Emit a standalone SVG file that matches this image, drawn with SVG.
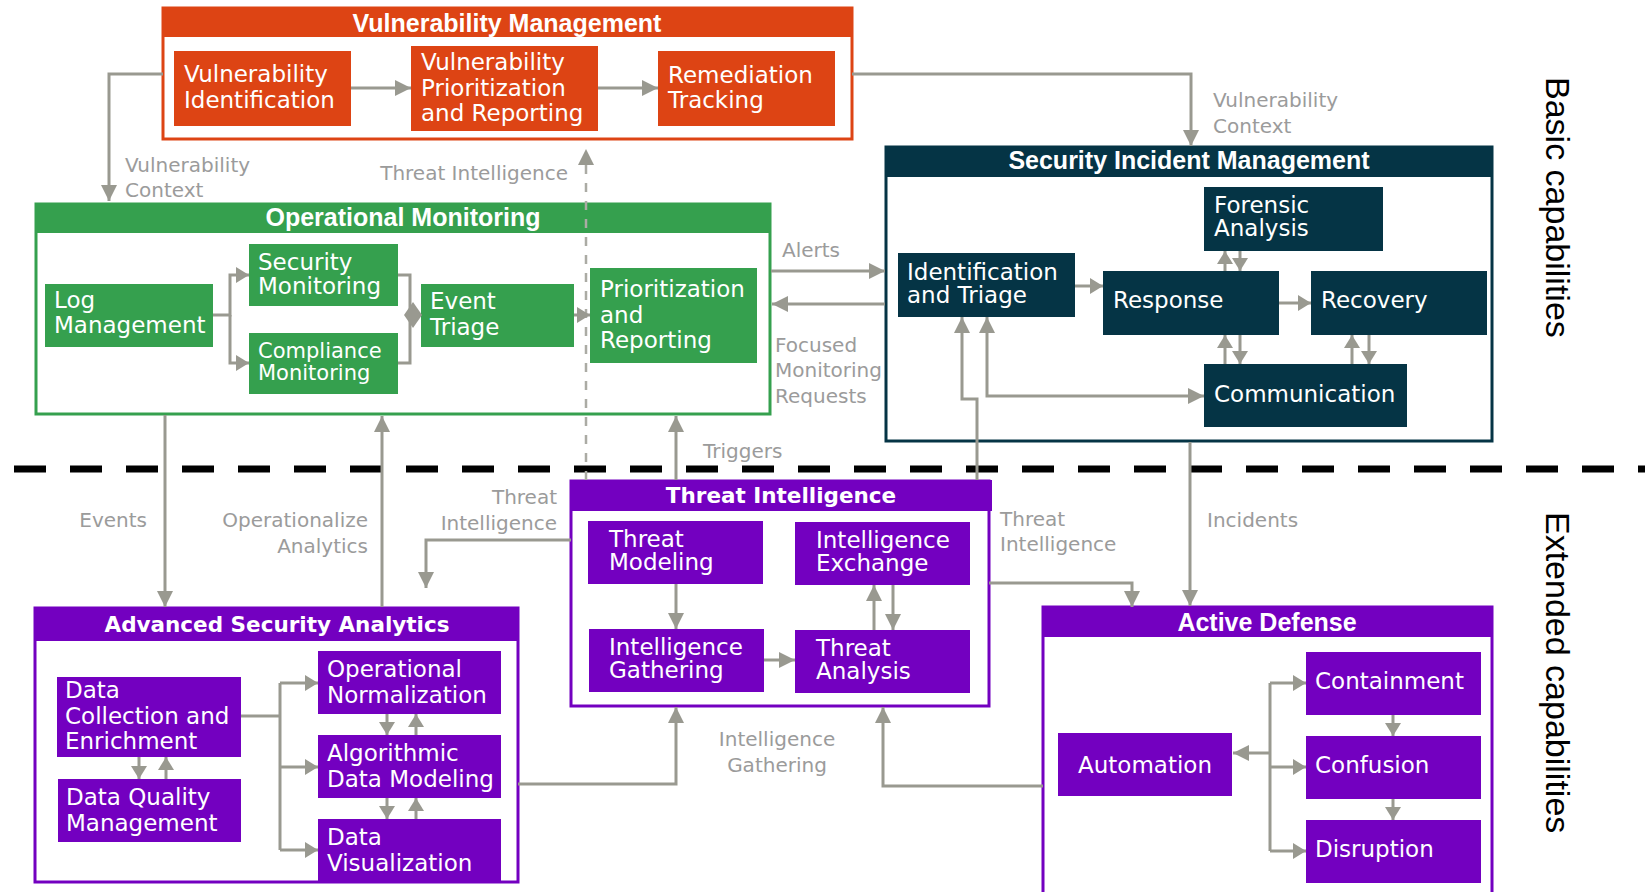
<svg xmlns="http://www.w3.org/2000/svg" width="1645" height="892" viewBox="0 0 1645 892">
  <style>
    .hd { font-family: "Liberation Sans", Arial, sans-serif; font-weight: bold; font-size: 25px; fill: #fff; text-anchor: middle; }
    .hd2 { font-family: "DejaVu Sans", sans-serif; font-weight: bold; font-size: 21.5px; fill: #fff; text-anchor: middle; }
    .nt { font-family: "DejaVu Sans", sans-serif; font-size: 23px; fill: #fff; }
    .nt.sm { font-size: 21px; }
    .mid { text-anchor: middle; }
    .lb { font-family: "DejaVu Sans", sans-serif; font-size: 20px; fill: #9b9b9b; }
    .end { text-anchor: end; }
    .side { font-family: "Liberation Sans", Arial, sans-serif; font-size: 34px; fill: #000; }
    .cn { fill: none; stroke: #999990; stroke-width: 3; }
    .ar { marker-end: url(#arr); }
    .as { marker-end: url(#arrs); }
    .dash { fill: none; stroke: #ababa4; stroke-width: 2.5; stroke-dasharray: 9 9; }
    .sep { fill: none; stroke: #000; stroke-width: 7; stroke-dasharray: 32 24; }
    .vm-box { fill: #fff; stroke: #dd4414; stroke-width: 3; }
    .vm { fill: #dd4414; }
    .om-box { fill: #fff; stroke: #35a04e; stroke-width: 3; }
    .om { fill: #35a04e; }
    .sim-box { fill: #fff; stroke: #053445; stroke-width: 3; }
    .sim { fill: #053445; }
    .pu-box { fill: #fff; stroke: #7300c0; stroke-width: 3; }
    .pu { fill: #7300c0; }
  </style>
  <defs>
    <marker id="arr" viewBox="0 0 16 16" refX="16" refY="8" markerWidth="16" markerHeight="16" markerUnits="userSpaceOnUse" orient="auto-start-reverse">
      <path d="M0,0 L16,8 L0,16 z" fill="#999990"/>
    </marker>
    <marker id="arrs" viewBox="0 0 13 16" refX="13" refY="8" markerWidth="13" markerHeight="16" markerUnits="userSpaceOnUse" orient="auto-start-reverse">
      <path d="M0,0 L13,8 L0,16 z" fill="#999990"/>
    </marker>
  </defs>

  <rect width="1645" height="892" fill="#fff"/>

  <!-- basic / extended boundary -->
  <path class="sep" d="M14,469 H1645"/>

  <!-- side captions -->
  <text class="side" transform="translate(1546,77) rotate(90)">Basic capabilities</text>
  <text class="side" transform="translate(1546,512) rotate(90)">Extended capabilities</text>

  <!-- Vulnerability Management -->
  <g id="vulnerability-management">
    <rect class="vm-box" x="163" y="8" width="689" height="131"/>
    <rect class="vm" x="163" y="8" width="689" height="29"/>
    <text class="hd" x="507" y="32">Vulnerability Management</text>
    <g id="vulnerability-identification">
      <rect class="vm" x="174" y="51" width="177" height="75"/>
      <text class="nt" x="184" y="82">Vulnerability</text>
      <text class="nt" x="184" y="108">Identification</text>
    </g>
    <g id="vulnerability-prioritization">
      <rect class="vm" x="411" y="46" width="187" height="85"/>
      <text class="nt" x="421" y="70">Vulnerability</text>
      <text class="nt" x="421" y="96">Prioritization</text>
      <text class="nt" x="421" y="121">and Reporting</text>
    </g>
    <g id="remediation-tracking">
      <rect class="vm" x="658" y="51" width="177" height="75"/>
      <text class="nt" x="668" y="83">Remediation</text>
      <text class="nt" x="668" y="108">Tracking</text>
    </g>
  </g>

  <!-- Operational Monitoring -->
  <g id="operational-monitoring">
    <rect class="om-box" x="36" y="204" width="734" height="210"/>
    <rect class="om" x="36" y="204" width="734" height="29"/>
    <text class="hd" x="403" y="226">Operational Monitoring</text>
    <g id="log-management">
      <rect class="om" x="45" y="284" width="168" height="63"/>
      <text class="nt" x="54" y="308">Log</text>
      <text class="nt" x="54" y="333">Management</text>
    </g>
    <g id="security-monitoring">
      <rect class="om" x="249" y="244" width="149" height="62"/>
      <text class="nt" x="258" y="270">Security</text>
      <text class="nt" x="258" y="294">Monitoring</text>
    </g>
    <g id="compliance-monitoring">
      <rect class="om" x="249" y="333" width="149" height="61"/>
      <text class="nt sm" x="258" y="358">Compliance</text>
      <text class="nt sm" x="258" y="380">Monitoring</text>
    </g>
    <g id="event-triage">
      <rect class="om" x="421" y="284" width="153" height="63"/>
      <text class="nt" x="430" y="309">Event</text>
      <text class="nt" x="430" y="335">Triage</text>
    </g>
    <g id="prioritization-reporting">
      <rect class="om" x="590" y="268" width="167" height="95"/>
      <text class="nt" x="600" y="297">Prioritization</text>
      <text class="nt" x="600" y="323">and</text>
      <text class="nt" x="600" y="348">Reporting</text>
    </g>
  </g>

  <!-- Security Incident Management -->
  <g id="security-incident-management">
    <rect class="sim-box" x="886" y="147" width="606" height="294"/>
    <rect class="sim" x="886" y="147" width="606" height="30"/>
    <text class="hd" x="1189" y="169">Security Incident Management</text>
    <g id="forensic-analysis">
      <rect class="sim" x="1204" y="187" width="179" height="64"/>
      <text class="nt" x="1214" y="213">Forensic</text>
      <text class="nt" x="1214" y="236">Analysis</text>
    </g>
    <g id="identification-triage">
      <rect class="sim" x="898" y="253" width="177" height="64"/>
      <text class="nt" x="907" y="280">Identification</text>
      <text class="nt" x="907" y="303">and Triage</text>
    </g>
    <g id="response">
      <rect class="sim" x="1103" y="271" width="176" height="64"/>
      <text class="nt" x="1113" y="308">Response</text>
    </g>
    <g id="recovery">
      <rect class="sim" x="1311" y="271" width="176" height="64"/>
      <text class="nt" x="1321" y="308">Recovery</text>
    </g>
    <g id="communication">
      <rect class="sim" x="1204" y="364" width="203" height="63"/>
      <text class="nt" x="1214" y="402">Communication</text>
    </g>
  </g>

  <!-- Advanced Security Analytics -->
  <g id="advanced-security-analytics">
    <rect class="pu-box" x="35" y="608" width="483" height="274"/>
    <rect class="pu" x="35" y="608" width="483" height="33"/>
    <text class="hd2" x="277" y="632">Advanced Security Analytics</text>
    <g id="data-collection">
      <rect class="pu" x="57" y="677" width="184" height="80"/>
      <text class="nt" x="65" y="698">Data</text>
      <text class="nt" x="65" y="724">Collection and</text>
      <text class="nt" x="65" y="749">Enrichment</text>
    </g>
    <g id="data-quality">
      <rect class="pu" x="58" y="779" width="183" height="63"/>
      <text class="nt" x="66" y="805">Data Quality</text>
      <text class="nt" x="66" y="831">Management</text>
    </g>
    <g id="operational-normalization">
      <rect class="pu" x="318" y="651" width="183" height="63"/>
      <text class="nt" x="327" y="677">Operational</text>
      <text class="nt" x="327" y="703">Normalization</text>
    </g>
    <g id="algorithmic-modeling">
      <rect class="pu" x="318" y="735" width="183" height="63"/>
      <text class="nt" x="327" y="761">Algorithmic</text>
      <text class="nt" x="327" y="787">Data Modeling</text>
    </g>
    <g id="data-visualization">
      <rect class="pu" x="318" y="819" width="183" height="64"/>
      <text class="nt" x="327" y="845">Data</text>
      <text class="nt" x="327" y="871">Visualization</text>
    </g>
  </g>

  <!-- Threat Intelligence -->
  <g id="threat-intelligence">
    <rect class="pu-box" x="571" y="481" width="418" height="225"/>
    <rect class="pu" x="570" y="480" width="422" height="31"/>
    <text class="hd2" x="781" y="503">Threat Intelligence</text>
    <g id="threat-modeling">
      <rect class="pu" x="588" y="521" width="175" height="63"/>
      <text class="nt" x="609" y="547">Threat</text>
      <text class="nt" x="609" y="570">Modeling</text>
    </g>
    <g id="intelligence-exchange">
      <rect class="pu" x="795" y="522" width="175" height="63"/>
      <text class="nt" x="816" y="548">Intelligence</text>
      <text class="nt" x="816" y="571">Exchange</text>
    </g>
    <g id="intelligence-gathering">
      <rect class="pu" x="589" y="629" width="175" height="63"/>
      <text class="nt" x="609" y="655">Intelligence</text>
      <text class="nt" x="609" y="678">Gathering</text>
    </g>
    <g id="threat-analysis">
      <rect class="pu" x="795" y="630" width="175" height="63"/>
      <text class="nt" x="816" y="656">Threat</text>
      <text class="nt" x="816" y="679">Analysis</text>
    </g>
  </g>

  <!-- Active Defense -->
  <g id="active-defense">
    <rect class="pu-box" x="1043" y="607" width="449" height="300"/>
    <rect class="pu" x="1043" y="607" width="449" height="30"/>
    <text class="hd" x="1267" y="631">Active Defense</text>
    <g id="automation">
      <rect class="pu" x="1058" y="733" width="174" height="63"/>
      <text class="nt mid" x="1145" y="773">Automation</text>
    </g>
    <g id="containment">
      <rect class="pu" x="1306" y="652" width="175" height="63"/>
      <text class="nt" x="1315" y="689">Containment</text>
    </g>
    <g id="confusion">
      <rect class="pu" x="1306" y="736" width="175" height="63"/>
      <text class="nt" x="1315" y="773">Confusion</text>
    </g>
    <g id="disruption">
      <rect class="pu" x="1306" y="820" width="175" height="63"/>
      <text class="nt" x="1315" y="857">Disruption</text>
    </g>
  </g>

  <!-- connectors, drawn over the group frames -->
  <g id="connectors">
    <path class="cn ar" d="M163,74 H109 V201"/>
    <path class="cn ar" d="M852,74 H1191 V146"/>
    <path class="dash" d="M586,480 V163"/>
    <path d="M586,149 L594,165 L578,165 z" fill="#999990"/>
    <path class="cn ar" d="M771,271 H885"/>
    <path class="cn ar" d="M885,304 H772"/>
    <path class="cn ar" d="M165,415 V607"/>
    <path class="cn ar" d="M382,607 V416"/>
    <path class="cn ar" d="M676,480 V416"/>
    <path class="cn ar" d="M571,540 H426 V588"/>
    <path class="cn ar" d="M518,784 H676 V707"/>
    <path class="cn ar" d="M1043,786 H883 V707"/>
    <path class="cn ar" d="M989,583 H1132 V607"/>
    <path class="cn ar" d="M1190,442 V606"/>
    <path class="cn ar" d="M977,480 V399 H962 V317"/>

    <!-- inside Operational Monitoring -->
    <path class="cn as" d="M213,315 H230 V275 H249"/>
    <path class="cn as" d="M230,315 V363 H249"/>
    <path class="cn" d="M398,275 H410 V363 H398"/>
    <path d="M404,315 L413,302 L422,315 L413,328 z" fill="#999990"/>
    <path class="cn as" d="M574,315 H590"/>

    <!-- inside Vulnerability Management -->
    <path class="cn ar" d="M351,88 H411"/>
    <path class="cn ar" d="M598,88 H658"/>

    <!-- inside Security Incident Management -->
    <path class="cn as" d="M1075,286 H1103"/>
    <path class="cn as" d="M1279,303 H1311"/>
    <path class="cn as" d="M1225,271 V251"/>
    <path class="cn as" d="M1240,251 V271"/>
    <path class="cn as" d="M1225,364 V335"/>
    <path class="cn as" d="M1240,335 V364"/>
    <path class="cn as" d="M1352,364 V335"/>
    <path class="cn as" d="M1369,335 V364"/>
    <path class="cn ar" d="M987,317 V396 H1204" marker-start="url(#arr)"/>

    <!-- inside Advanced Security Analytics -->
    <path class="cn" d="M241,716 H280"/>
    <path class="cn" d="M280,683 V850"/>
    <path class="cn as" d="M280,683 H318"/>
    <path class="cn as" d="M280,767 H318"/>
    <path class="cn as" d="M280,850 H318"/>
    <path class="cn as" d="M139,757 V779"/>
    <path class="cn as" d="M166,779 V757"/>
    <path class="cn as" d="M387,714 V735"/>
    <path class="cn as" d="M416,735 V714"/>
    <path class="cn as" d="M387,798 V819"/>
    <path class="cn as" d="M416,819 V798"/>

    <!-- inside Threat Intelligence -->
    <path class="cn ar" d="M676,584 V629"/>
    <path class="cn ar" d="M764,660 H795"/>
    <path class="cn ar" d="M874,630 V585"/>
    <path class="cn ar" d="M893,585 V630"/>

    <!-- inside Active Defense -->
    <path class="cn" d="M1270,683 V851"/>
    <path class="cn as" d="M1270,683 H1306"/>
    <path class="cn as" d="M1270,767 H1306"/>
    <path class="cn as" d="M1270,851 H1306"/>
    <path class="cn ar" d="M1270,753 H1233"/>
    <path class="cn as" d="M1393,715 V736"/>
    <path class="cn as" d="M1393,799 V820"/>
  </g>

  <!-- connector labels -->
  <g id="labels">
    <text class="lb" x="125" y="172">Vulnerability</text>
    <text class="lb" x="125" y="197">Context</text>
    <text class="lb end" x="568" y="180">Threat Intelligence</text>
    <text class="lb" x="1213" y="107">Vulnerability</text>
    <text class="lb" x="1213" y="133">Context</text>
    <text class="lb" x="782" y="257">Alerts</text>
    <text class="lb" x="775" y="352">Focused</text>
    <text class="lb" x="775" y="377">Monitoring</text>
    <text class="lb" x="775" y="403">Requests</text>
    <text class="lb" x="703" y="458">Triggers</text>
    <text class="lb end" x="147" y="527">Events</text>
    <text class="lb end" x="368" y="527">Operationalize</text>
    <text class="lb end" x="368" y="553">Analytics</text>
    <text class="lb end" x="557" y="504">Threat</text>
    <text class="lb end" x="557" y="530">Intelligence</text>
    <text class="lb" x="1000" y="526">Threat</text>
    <text class="lb" x="1000" y="551">Intelligence</text>
    <text class="lb" x="1207" y="527">Incidents</text>
    <text class="lb mid" x="777" y="746">Intelligence</text>
    <text class="lb mid" x="777" y="772">Gathering</text>
  </g>
</svg>
